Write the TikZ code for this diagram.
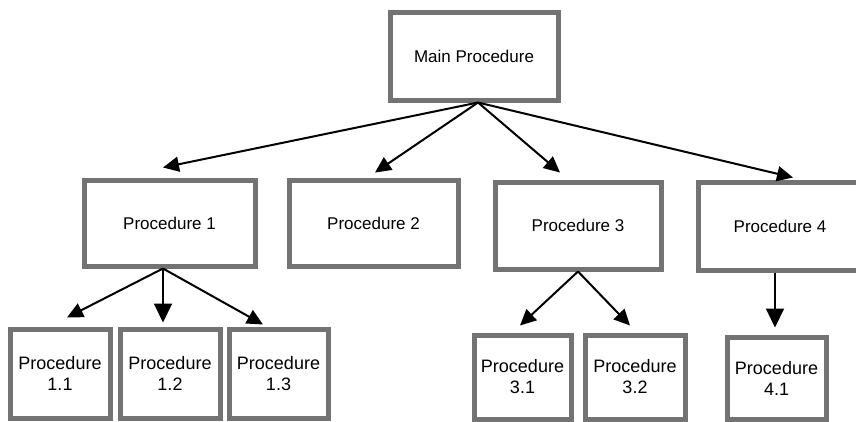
\documentclass[tikz,border=0pt]{standalone}
\usepackage{fontspec}
\setmainfont{Liberation Sans}
\usetikzlibrary{arrows.meta}
\begin{document}
\begin{tikzpicture}[x=1pt,y=-1pt,
  box/.style={draw=black!55, line width=5pt, fill=white, inner sep=0pt, align=center,
    font=\fontsize{17}{21}\selectfont},
  smallbox/.style={box, font=\fontsize{18}{21}\selectfont},
  conn/.style={draw=black, line width=2pt, -{Triangle[length=16pt,width=15pt]}},
  bigconn/.style={conn, -{Triangle[length=19pt,width=18pt]}}]
\clip (0,0) rectangle (856,421);
\fill[white] (0,0) rectangle (856,421);
% level 1
\node[box, minimum width=168pt, minimum height=88pt] (main) at (474,56) {Main Procedure};
% level 2
\node[box, minimum width=171pt, minimum height=86pt] (p1) at (169.5,223) {Procedure 1};
\node[box, minimum width=169pt, minimum height=86pt] (p2) at (373.5,223) {Procedure 2};
\node[box, minimum width=166pt, minimum height=87pt] (p3) at (578,225.5) {Procedure 3};
\node[box, minimum width=164pt, minimum height=88pt] (p4) at (780,226) {Procedure 4};
% level 3
\node[smallbox, minimum width=100pt, minimum height=89pt] (p11) at (60,373.5) {Procedure\\1.1};
\node[smallbox, minimum width=100pt, minimum height=89pt] (p12) at (170,373.5) {Procedure\\1.2};
\node[smallbox, minimum width=99pt, minimum height=89pt] (p13) at (278.5,373.5) {Procedure\\1.3};
\node[smallbox, minimum width=97pt, minimum height=84pt] (p31) at (522.5,377) {Procedure\\3.1};
\node[smallbox, minimum width=100pt, minimum height=84pt] (p32) at (635,377) {Procedure\\3.2};
\node[smallbox, minimum width=99pt, minimum height=82pt] (p41) at (776.5,378) {Procedure\\4.1};
% connectors
\draw[conn] ([xshift=4pt]main.south) -- ([xshift=-6.5pt,yshift=10pt]p1.north);
\draw[conn] ([xshift=4pt]main.south) -- ([xshift=1.5pt,yshift=5pt]p2.north);
\draw[conn] ([xshift=4pt]main.south) -- ([xshift=-18pt,yshift=7pt]p3.north);
\draw[conn] ([xshift=4pt]main.south) -- ([xshift=13pt,yshift=2pt]p4.north);
\draw[conn] ([xshift=-6.5pt]p1.south) -- ([xshift=7pt,yshift=9pt]p11.north);
\draw[bigconn] ([xshift=-6.5pt]p1.south) -- ([xshift=-7pt,yshift=4pt]p12.north);
\draw[conn] ([xshift=-6.5pt]p1.south) -- ([xshift=-15.5pt,yshift=2pt]p13.north);
\draw[conn] (p3.south) -- ([xshift=-2.5pt,yshift=7pt]p31.north);
\draw[conn] (p3.south) -- ([xshift=-5pt,yshift=7pt]p32.north);
\draw[bigconn] ([xshift=-5pt]p4.south) -- ([xshift=-1.5pt,yshift=7pt]p41.north);
\end{tikzpicture}
\end{document}
